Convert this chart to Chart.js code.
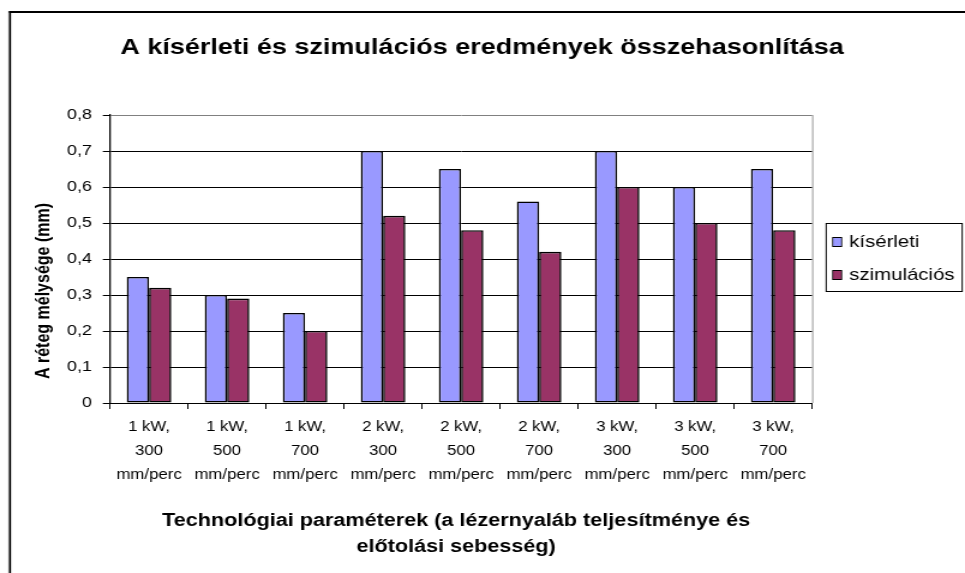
<!DOCTYPE html>
<html lang="hu">
<head>
<meta charset="utf-8">
<title>A kísérleti és szimulációs eredmények összehasonlítása</title>
<script src="https://cdn.jsdelivr.net/npm/chart.js@4.4.1/dist/chart.umd.min.js"></script>
<style>
  html, body { margin: 0; padding: 0; background: #fff; }
  #wrap { position: relative; width: 965px; height: 573px; overflow: hidden; }
  canvas { display: block; }
</style>
</head>
<body>
<div id="wrap"><canvas id="c"></canvas></div>
<script>
// Technological parameters: laser power and feed rate (multi-line labels)
const categories = [
  ['1 kW,', '300', 'mm/perc'],
  ['1 kW,', '500', 'mm/perc'],
  ['1 kW,', '700', 'mm/perc'],
  ['2 kW,', '300', 'mm/perc'],
  ['2 kW,', '500', 'mm/perc'],
  ['2 kW,', '700', 'mm/perc'],
  ['3 kW,', '300', 'mm/perc'],
  ['3 kW,', '500', 'mm/perc'],
  ['3 kW,', '700', 'mm/perc']
];

// Layer depth in mm
const kiserleti   = [0.35, 0.30, 0.25, 0.70, 0.65, 0.56, 0.70, 0.60, 0.65];
const szimulacios = [0.32, 0.29, 0.20, 0.52, 0.48, 0.42, 0.60, 0.50, 0.48];

const seriesNames = ['kísérleti', 'szimulációs'];
const yTickLabels = ['0', '0,1', '0,2', '0,3', '0,4', '0,5', '0,6', '0,7', '0,8'];

const chartTitle = 'A kísérleti és szimulációs eredmények összehasonlítása';
const yTitle = 'A réteg mélysége (mm)';
const xTitleLines = ['Technológiai paraméterek (a lézernyaláb teljesítménye és', 'előtolási sebesség)'];

const FONT = "'Liberation Sans', Arial, sans-serif";
const colors = ['#9999FF', '#993366'];

// The sheet is drawn on a narrower canvas and shown widened, so the
// whole chart (text included) gets the wide, spread-out look of the sheet.
const W = 965, H = 573, S = 1.2;
const CW = Math.round(W / S);
const X = (px) => px / S;

const canvas = document.getElementById('c');
canvas.width = CW;
canvas.height = H;
canvas.style.width = W + 'px';
canvas.style.height = H + 'px';

// Frame, titles, plot border and the boxed legend
const decorations = {
  id: 'decorations',
  afterDraw(chart) {
    const ctx = chart.ctx;
    const a = chart.chartArea;
    ctx.save();

    // outer frame (left and top edges)
    ctx.fillStyle = '#c8c8c8';
    ctx.fillRect(X(8), 11, X(1), H);
    ctx.fillStyle = '#000';
    ctx.fillRect(X(9), 11, X(2), H);
    ctx.fillRect(X(9), 11, CW, 2);

    // plot area right border
    ctx.fillStyle = '#808080';
    ctx.fillRect(a.right, a.top, X(1), a.bottom - a.top);

    // chart title
    ctx.fillStyle = '#000';
    ctx.textAlign = 'center';
    ctx.textBaseline = 'middle';
    ctx.font = 'bold 22.5px ' + FONT;
    ctx.fillText(chartTitle, X(482), 48);

    // y axis title
    ctx.save();
    ctx.translate(X(44), 291);
    ctx.rotate(-Math.PI / 2);
    ctx.font = 'bold 16px ' + FONT;
    ctx.fillText(yTitle, 0, 0);
    ctx.restore();

    // x axis title
    ctx.font = 'bold 18px ' + FONT;
    ctx.fillText(xTitleLines[0], X(456), 521);
    ctx.fillText(xTitleLines[1], X(456), 547);

    // legend
    const lx = X(826), ly = 223, lw = X(136), lh = 68;
    ctx.strokeStyle = '#000';
    ctx.lineWidth = 1;
    ctx.strokeRect(lx, ly + 0.5, lw, lh);
    ctx.textAlign = 'left';
    ctx.font = '17px ' + FONT;
    const rows = [242, 275];
    chart.data.datasets.forEach((ds, i) => {
      const cy = rows[i];
      ctx.fillStyle = '#000';
      ctx.fillRect(X(832), cy - 5, X(10), 10);
      ctx.fillStyle = ds.backgroundColor;
      ctx.fillRect(X(833), cy - 4, X(8), 8);
      ctx.fillStyle = '#000';
      ctx.fillText(ds.label, X(849), cy);
    });

    ctx.restore();
  }
};

new Chart(canvas, {
  type: 'bar',
  data: {
    labels: categories,
    datasets: [
      {
        label: seriesNames[0],
        data: kiserleti,
        backgroundColor: colors[0],
        borderColor: '#000',
        borderWidth: 1.6,
        borderSkipped: false
      },
      {
        label: seriesNames[1],
        data: szimulacios,
        backgroundColor: colors[1],
        borderColor: '#000',
        borderWidth: 1.6,
        borderSkipped: false
      }
    ]
  },
  options: {
    responsive: false,
    animation: false,
    events: [],
    devicePixelRatio: 1,
    datasets: {
      bar: { categoryPercentage: 0.571, barPercentage: 1.0 }
    },
    layout: { padding: { left: 0, top: 115, right: CW - X(812), bottom: 0 } },
    plugins: {
      legend: { display: false },
      title: { display: false },
      tooltip: { enabled: false }
    },
    scales: {
      x: {
        offset: true,
        grid: {
          display: true,
          offset: true,
          drawOnChartArea: false,
          drawTicks: true,
          tickLength: 6,
          color: '#000',
          tickColor: '#000'
        },
        border: { display: true, color: '#000', width: 1 },
        ticks: {
          color: '#000',
          padding: 6,
          maxRotation: 0,
          autoSkip: false,
          font: { family: FONT, size: 14, lineHeight: 1.72 }
        },
        afterFit(scale) { scale.height = 170; }
      },
      y: {
        min: 0,
        max: 0.8,
        ticks: {
          stepSize: 0.1,
          color: '#000',
          padding: 9,
          font: { family: FONT, size: 15 },
          callback: (v, i) => yTickLabels[i]
        },
        grid: {
          color: (c) => (c.index === yTickLabels.length - 1 ? '#808080' : '#000'),
          tickColor: '#000',
          tickLength: 6,
          lineWidth: 1
        },
        border: { display: true, color: '#000', width: 1.3 },
        afterFit(scale) { scale.width = X(110); }
      }
    }
  },
  plugins: [decorations]
});
</script>
</body>
</html>
